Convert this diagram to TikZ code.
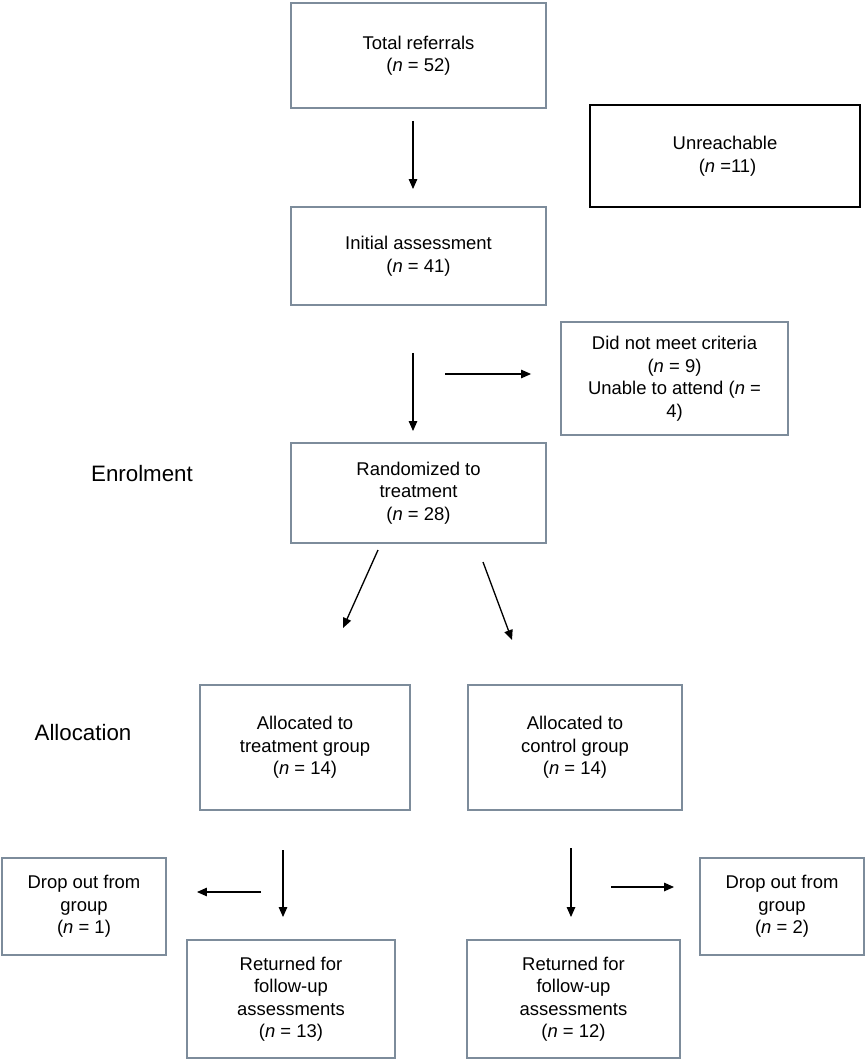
\documentclass[tikz,border=0pt]{standalone}
\usepackage{fontspec}
\setmainfont{Liberation Sans}
\usetikzlibrary{arrows.meta,positioning}

\definecolor{boxline}{RGB}{125,140,155}

\begin{document}
\begin{tikzpicture}[x=0.02cm, y=-0.02cm,
  every node/.style = {align=center,
    font=\fontsize{10.5}{12.8}\selectfont},
  box/.style = {shape=rectangle, draw=boxline, line width=1.1pt, inner sep=0pt},
  plainbox/.style = {shape=rectangle, draw=black, line width=0.8pt, inner sep=0pt},
  stage/.style = {font=\fontsize{12.7}{15}\selectfont},
  arr/.style = {-{Triangle[length=0.2cm, width=0.17cm]}, line width=0.75pt}]
  \useasboundingbox (0,0) rectangle (866,1060);

  % enrolment
  \node[box, minimum width=5.1cm, minimum height=2.1cm] (total) at (418.5,55.5)
    {Total referrals\\(\textit{n} = 52)};
  \node[plainbox, minimum width=5.4cm, minimum height=2.04cm] (unreach) at (725,156)
    {Unreachable\\\ (\textit{n} =11)};
  \node[box, minimum width=5.1cm, minimum height=1.96cm] (init) at (418.5,256)
    {Initial assessment\\(\textit{n} = 41)};
  \node[box, minimum width=4.54cm, minimum height=2.26cm] (crit) at (674.5,378.5)
    {Did not meet criteria\\(\textit{n} = 9)\\Unable to attend (\textit{n} =\\4)};
  \node[box, minimum width=5.1cm, minimum height=2.0cm] (rand) at (418.5,493)
    {Randomized to\\treatment\\(\textit{n} = 28)};
  \node[stage] (enrol) at (142,474) {Enrolment};

  % allocation
  \node[box, minimum width=4.2cm, minimum height=2.5cm] (treat) at (305,747.5)
    {Allocated to\\treatment group\\(\textit{n} = 14)};
  \node[box, minimum width=4.28cm, minimum height=2.5cm] (ctrl) at (575,747.5)
    {Allocated to\\control group\\(\textit{n} = 14)};
  \node[stage] (alloc) at (83,733) {Allocation};

  % follow-up
  \node[box, minimum width=3.28cm, minimum height=1.94cm] (dropL) at (84,906.5)
    {Drop out from\\group\\(\textit{n} = 1)};
  \node[box, minimum width=4.16cm, minimum height=2.36cm] (retL) at (291,999)
    {Returned for\\follow-up\\assessments\\(\textit{n} = 13)};
  \node[box, minimum width=4.26cm, minimum height=2.36cm] (retR) at (573.5,999)
    {Returned for\\follow-up\\assessments\\(\textit{n} = 12)};
  \node[box, minimum width=3.28cm, minimum height=1.94cm] (dropR) at (782,906.5)
    {Drop out from\\group\\(\textit{n} = 2)};

  % connectors
  \coordinate (sideA) at (445,374);
  \coordinate (splitL) at (378,550);
  \coordinate (toTreat) at (343,628);
  \coordinate (splitR) at (483,562);
  \coordinate (toCtrl) at (512,640);
  \coordinate (downL) at (283,850);
  \coordinate (leftA) at (261,892);
  \coordinate (downR) at (571,848);
  \coordinate (rightA) at (611,887);

  \draw[arr, shorten <=0.24cm, shorten >=0.34cm]
    ([xshift=-0.11cm]total.south) -- ([xshift=-0.11cm]init.north);
  \draw[arr, shorten <=0.94cm, shorten >=0.22cm]
    ([xshift=-0.11cm]init.south) -- ([xshift=-0.11cm]rand.north);
  \draw[arr, shorten >=0.58cm] (sideA) -- (crit.west |- sideA);
  \draw[arr] (splitL) -- (toTreat);
  \draw[arr] (splitR) -- (toCtrl);
  \draw[arr, shorten >=0.44cm] (downL) -- (downL |- retL.north);
  \draw[arr, shorten >=0.6cm] (leftA) -- (dropL.east |- leftA);
  \draw[arr, shorten >=0.44cm] (downR) -- (downR |- retR.north);
  \draw[arr, shorten >=0.5cm] (rightA) -- (dropR.west |- rightA);
\end{tikzpicture}
\end{document}
